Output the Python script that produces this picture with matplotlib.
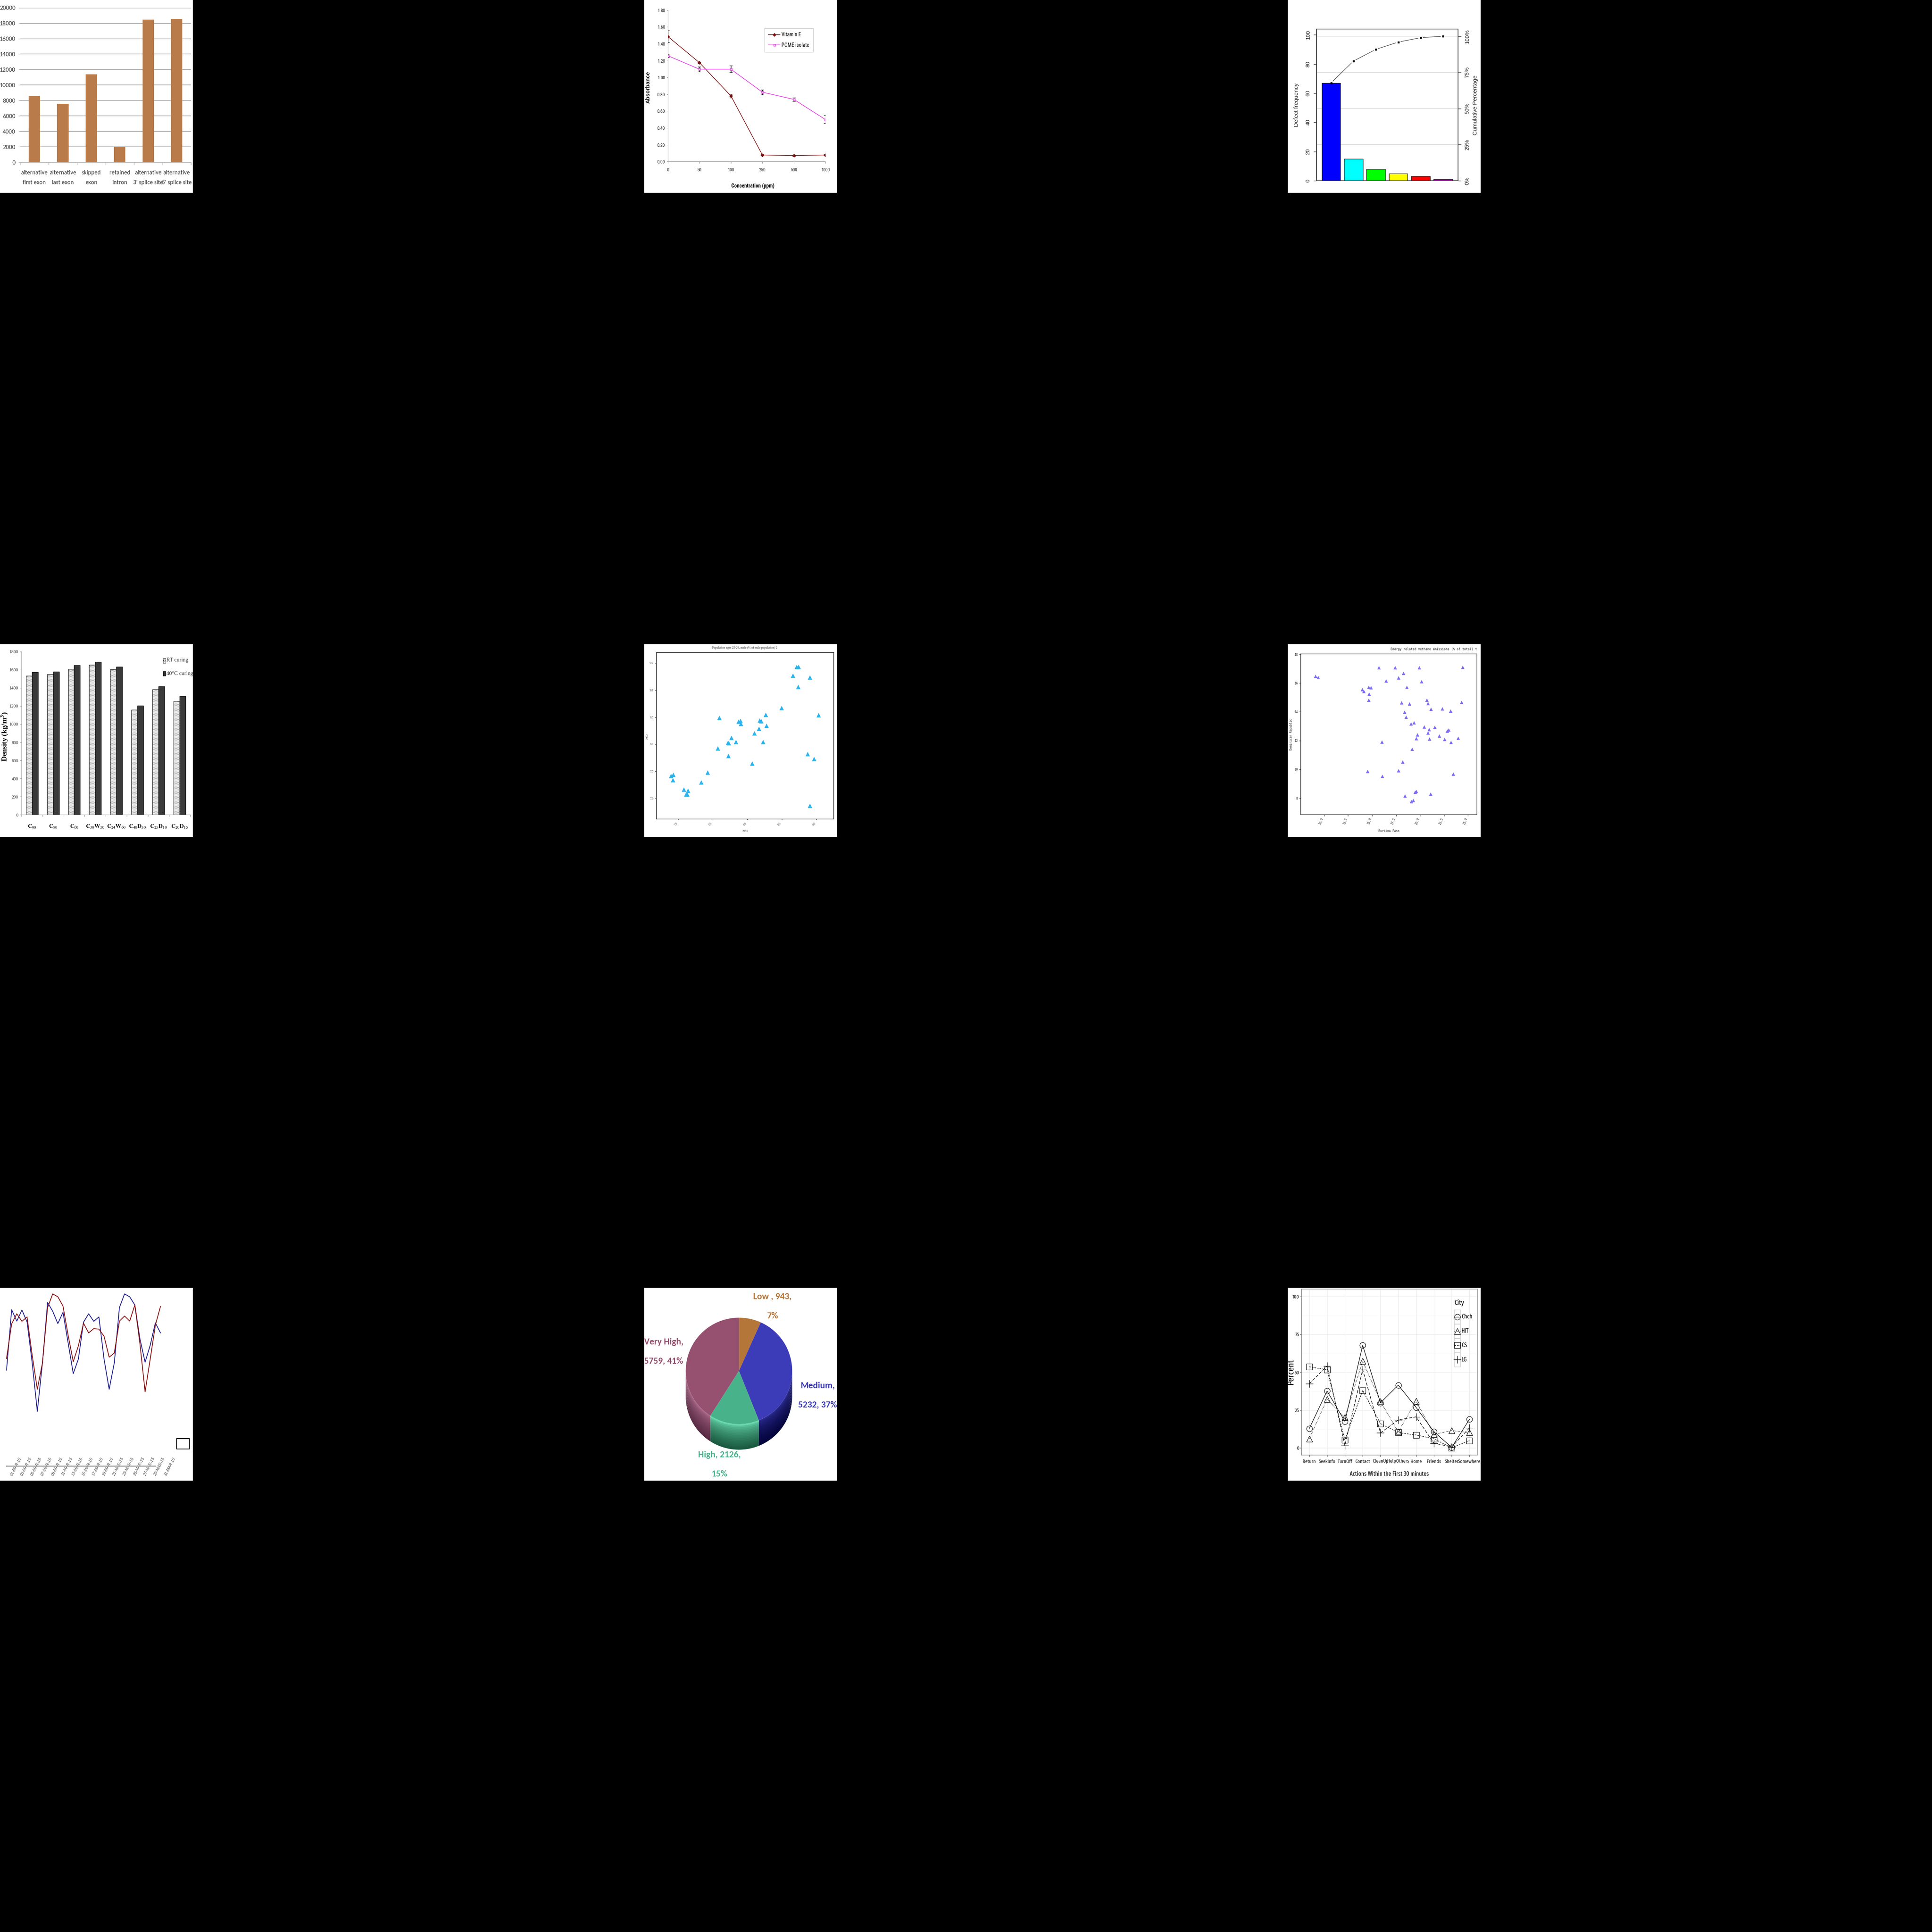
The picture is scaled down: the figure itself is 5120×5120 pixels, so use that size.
import numpy as np
import pandas as pd
import matplotlib
matplotlib.use('Agg')
import matplotlib.pyplot as plt
import matplotlib.dates as mdates
from matplotlib.patches import Rectangle, Polygon
from matplotlib.lines import Line2D
from matplotlib import font_manager as fm
from matplotlib.ticker import NullFormatter, FormatStrFormatter
from matplotlib.colors import to_rgb

# ---------------------------------------------------------------- data
p1_categories = ["alternative\nfirst exon", "alternative\nlast exon", "skipped\nexon",
                 "retained\nintron", "alternative\n3' splice site", "alternative\n5' splice site"]
p1_counts = [8600, 7560, 11400, 2000, 18450, 18570]

p2_conc = ['0', '50', '100', '250', '500', '1000']
p2_vitE = [1.486, 1.176, 0.781, 0.079, 0.072, 0.079]
p2_vitE_err = [0.07, 0.01, 0.022, 0.006, 0.006, 0.006]
p2_pome = [1.258, 1.098, 1.098, 0.825, 0.739, 0.500]
p2_pome_err = [0.02, 0.03, 0.04, 0.03, 0.02, 0.046]

p3_freq = [67, 15, 8, 5, 3, 1]
p3_colors = ['#0000FF', '#00FFFF', '#00FF00', '#FFFF00', '#FF0000', '#FF00FF']

p4_mixes = [r'$\mathbf{C}_{90}$', r'$\mathbf{C}_{80}$', r'$\mathbf{C}_{60}$', r'$\mathbf{C}_{30}\mathbf{W}_{50}$',
            r'$\mathbf{C}_{24}\mathbf{W}_{60}$', r'$\mathbf{C}_{40}\mathbf{D}_{30}$', r'$\mathbf{C}_{25}\mathbf{D}_{10}$',
            r'$\mathbf{C}_{20}\mathbf{D}_{15}$']
p4_rt = [1534, 1548, 1607, 1653, 1603, 1158, 1384, 1255]
p4_40c = [1574, 1577, 1650, 1686, 1634, 1202, 1414, 1308]
p4_series = ['RT curing', '40°C curing']

p5_x1981 = [6.896, 6.925, 6.922, 7.078, 7.113, 7.131, 7.138, 7.333, 7.422, 7.571,
            7.593, 7.720, 7.731, 7.722, 7.769, 7.836, 7.873, 7.900, 7.904, 8.067,
            8.100, 8.165, 8.178, 8.200, 8.229, 8.264, 8.278, 8.493, 8.660, 8.711,
            8.742, 8.736, 8.905, 8.873, 8.965, 8.902, 9.031]
p5_y1992 = [7.419, 7.437, 7.344, 7.167, 7.077, 7.077, 7.147, 7.298, 7.477, 7.928,
            8.491, 8.033, 8.023, 7.786, 8.119, 8.047, 8.423, 8.433, 8.377, 7.647,
            8.205, 8.288, 8.444, 8.428, 8.044, 8.549, 8.342, 8.674, 9.272, 9.435,
            9.435, 9.060, 9.240, 7.819, 7.730, 6.870, 8.537]

p6_burkina = [9.096, 9.384, 15.714, 17.405, 19.934, 24.417, 18.257, 17.746, 16.461, 20.170,
              13.997, 14.155, 14.653, 14.902, 14.692, 14.640, 18.637, 18.073, 18.886, 20.695,
              20.800, 21.153, 22.320, 23.185, 24.299, 18.388, 18.558, 19.043, 19.384, 20.432,
              21.546, 20.930, 20.839, 22.844, 23.001, 19.738, 19.607, 20.996, 21.992, 22.556,
              23.198, 23.958, 16.029, 19.187, 18.191, 17.759, 14.522, 16.081, 23.434, 19.502,
              19.607, 18.440, 21.114, 19.109, 19.279]
p6_dominican = [16.469, 16.399, 17.081, 17.081, 17.081, 17.099, 16.679, 16.381, 16.171, 16.119,
                15.559, 15.437, 15.725, 15.699, 15.235, 14.815, 15.708, 14.649, 14.553, 14.824,
                14.579, 14.194, 14.212, 14.054, 14.675, 13.993, 13.643, 13.179, 13.258, 12.969,
                12.926, 12.768, 12.541, 12.663, 12.759, 12.401, 12.138, 12.129, 12.331, 12.086,
                11.893, 12.182, 11.919, 11.412, 10.528, 9.925, 9.855, 9.531, 9.680, 8.411,
                8.481, 8.157, 8.289, 7.764, 7.851]

p7_start = '2015-02-26'
p7_blue = [43.1, 91.1, 82.1, 90.9, 81.4, 48.9, 10.4, 48.9, 96.9, 89.9,
           80.1, 89.1, 64.9, 40.4, 51.9, 81.2, 87.9, 81.9, 85.4, 51.9,
           27.9, 48.9, 92.9, 103.7, 101.4, 94.9, 67.9, 49.4, 62.9, 80.7, 72.7]
p7_red = [52.4, 79.9, 87.9, 81.9, 85.4, 54.9, 27.9, 48.9, 92.9, 103.7,
          101.4, 94.1, 70.9, 49.9, 62.4, 80.4, 72.7, 76.1, 75.7, 70.1,
          53.4, 56.7, 82.1, 86.1, 82.1, 94.9, 63.9, 25.9, 51.9, 78.9, 93.7]

p8_levels = ['Low ', 'Medium', 'High', 'Very High']
p8_counts = [943, 5232, 2126, 5759]

p9_actions = ['Return', 'SeekInfo', 'TurnOff', 'Contact', 'CleanUp', 'HelpOthers',
              'Home', 'Friends', 'Shelter', 'Somewhere']
p9_cities = ['Chch', 'HIT', 'CS', 'LG']
p9_chch = [12.8, 37.6, 17.5, 67.8, 29.8, 41.5, 26.8, 10.7, 0.3, 18.9]
p9_hit = [6.0, 32.2, 20.1, 57.3, 30.7, 10.6, 31.0, 8.9, 11.4, 10.1]
p9_cs = [53.6, 51.7, 5.2, 38.0, 16.0, 10.1, 8.5, 6.0, 0.0, 4.7]
p9_lg = [42.3, 54.2, 1.6, 51.7, 9.9, 18.5, 20.5, 3.1, 0.6, 13.2]

# ---------------------------------------------------------------- fonts
_names = {f.name for f in fm.fontManager.ttflist}
def pick(*cands):
    for c in cands:
        if c in _names:
            return c
    return 'DejaVu Sans'
CALIBRI = pick('Carlito', 'Liberation Sans')
NARROW = pick('Roboto Condensed', 'Archivo Narrow', 'Liberation Sans')
XCOND = pick('Fira Sans Extra Condensed', 'Roboto Condensed', 'Liberation Sans')
SANS = pick('Liberation Sans', 'DejaVu Sans')
SERIF = pick('Liberation Serif', 'DejaVu Serif')
MONO = pick('DejaVu Sans Mono', 'Liberation Mono')
plt.rcParams['mathtext.fontset'] = 'stix'
plt.rcParams['hatch.linewidth'] = 0.6

# ---------------------------------------------------------------- figure helpers
W = 5120
fig = plt.figure(figsize=(W / 100, W / 100), dpi=100, facecolor='black')

def R(x0, y0, x1, y1):
    return [x0 / W, 1 - y1 / W, (x1 - x0) / W, (y1 - y0) / W]

def FX(x):
    return x / W

def FY(y):
    return 1 - y / W

def ftext(x, y, s, **kw):
    kw.setdefault('ha', 'center')
    kw.setdefault('va', 'center')
    return fig.text(x / W, 1 - y / W, s, **kw)

ORIG = [(round(c * W / 3), round(r * W / 3)) for r in range(3) for c in range(3)]
PS = 511

def background(i):
    ox, oy = ORIG[i]
    b = fig.add_axes(R(ox, oy, ox + PS, oy + PS))
    b.set_zorder(-5)
    b.set_facecolor('white')
    b.set_xticks([])
    b.set_yticks([])
    for s in b.spines.values():
        s.set_visible(False)
    return b

def style_labels(labels, **kw):
    for lab in labels:
        for k, v in kw.items():
            getattr(lab, 'set_' + k)(v)

# ================================================================ panel 1
background(0)
ax = fig.add_axes(R(53.3, 20.7, 506, 430))
x1 = np.arange(len(p1_counts))
ax.bar(x1, p1_counts, width=0.4, color='#BA7B4A', zorder=3)
ax.set_xlim(-0.5, len(x1) - 0.5)
ax.set_ylim(0, 20000)
ax.set_yticks(np.arange(0, 20001, 2000))
ax.yaxis.grid(True, color='#A8A8A8', lw=1.3)
ax.set_axisbelow(True)
ax.set_xticks(np.arange(-0.5, len(x1), 1.0))
ax.xaxis.set_major_formatter(NullFormatter())
ax.set_xticks(x1, minor=True)
ax.set_xticklabels(p1_categories, minor=True)
ax.tick_params(axis='x', which='major', length=5, color='#A8A8A8', width=1)
ax.tick_params(axis='x', which='minor', length=0, pad=15, labelsize=11.5, labelcolor='#3A3A3A')
ax.tick_params(axis='y', length=3, color='#A8A8A8', labelsize=12, pad=6, labelcolor='#3A3A3A')
for s in ['top', 'right', 'left']:
    ax.spines[s].set_visible(False)
ax.spines['bottom'].set_color('#A8A8A8')
ax.spines['bottom'].set_linewidth(1.3)
style_labels(ax.get_xticklabels(minor=True), fontfamily=CALIBRI, linespacing=2.15)
style_labels(ax.get_yticklabels(), fontfamily=CALIBRI)

# ================================================================ panel 2
background(1)
ax = fig.add_axes(R(1770, 26.7, 2187.3, 428.3))
x2 = np.arange(len(p2_conc))
ax.errorbar(x2, p2_vitE, yerr=p2_vitE_err, color='#7A1212', marker='D', ms=3.8, lw=1.2,
            ecolor='black', elinewidth=1.0, capsize=2.6, capthick=1.0, zorder=3)
ax.errorbar(x2, p2_pome, yerr=p2_pome_err, color='#E03CE0', marker='s', ms=3.6, mfc='#F6D0F6',
            mec='#E03CE0', lw=1.2, ecolor='black', elinewidth=1.0, capsize=2.6, capthick=1.0, zorder=3)
ax.set_xlim(0, len(x2) - 1)
ax.set_ylim(0, 1.8)
ax.set_yticks(np.arange(0, 1.81, 0.2))
ax.yaxis.set_major_formatter(FormatStrFormatter('%.2f'))
ax.set_xticks(x2, p2_conc)
for s in ['top', 'right']:
    ax.spines[s].set_visible(False)
for s in ['left', 'bottom']:
    ax.spines[s].set_color('#8A8A8A')
ax.tick_params(axis='y', length=2.5, color='#8A8A8A', labelsize=8.5, pad=3)
ax.tick_params(axis='x', length=3.5, color='#8A8A8A', labelsize=8.5, pad=8)
style_labels(ax.get_xticklabels() + ax.get_yticklabels(), fontfamily=NARROW, color='#222222')
h2 = [Line2D([], [], color='#7A1212', marker='D', ms=3.8, lw=1.2),
      Line2D([], [], color='#E03CE0', marker='s', ms=3.6, mfc='#F6D0F6', lw=1.2)]
leg = ax.legend(h2, ['Vitamin E', 'POME isolate'], loc='upper left',
                bbox_to_anchor=(FX(2026), FY(75)), bbox_transform=fig.transFigure,
                borderaxespad=0, fancybox=False, edgecolor='#C8C8C8', framealpha=1,
                prop=dict(family=NARROW, size=10), handlelength=2.2, labelspacing=1.0,
                borderpad=0.75, handletextpad=0.3)
leg.get_frame().set_linewidth(0.8)
ftext(1718, 232, 'Absorbance', rotation=90, fontsize=10.5, fontweight='bold', fontfamily=SANS)
ftext(1995, 493, 'Concentration (ppm)', fontsize=10, fontweight='bold', fontfamily=NARROW)

# ================================================================ panel 3
background(2)
ax = fig.add_axes(R(3488.7, 76.7, 3863.7, 479))
x3 = np.arange(len(p3_freq))
tot3 = sum(p3_freq)
cum3 = np.cumsum(p3_freq)
ax.bar(x3, p3_freq, width=1 / 1.2, color=p3_colors, edgecolor='#222222', lw=1.0, zorder=3)
ax.set_xlim(-0.654, len(x3) - 1 + 0.666)
ax.set_ylim(0, 104)
for pct in (25, 50, 75, 100):
    ax.axhline(pct / 100 * tot3, color='#E0E0E0', lw=1.5, zorder=1)
gap = 7.0
pts = ax.transData.transform(np.column_stack([x3, cum3]))
inv = ax.transData.inverted()
for p0, p1 in zip(pts[:-1], pts[1:]):
    d = p1 - p0
    u = d / np.hypot(*d)
    seg = inv.transform(np.array([p0 + u * gap, p1 - u * gap]))
    ax.plot(seg[:, 0], seg[:, 1], color='#333333', lw=0.9, zorder=4)
ax.plot(x3, cum3, 's', ms=3.0, color='black', zorder=5)
ax.set_yticks(np.arange(0, 101, 20))
ax.set_xticks([])
ax.tick_params(axis='y', length=5.8, width=1, color='#333333', labelsize=10.5, pad=5,
               labelrotation=90, labelcolor='#222222')
style_labels(ax.get_yticklabels(), fontfamily=SANS, va='center')
for s in ax.spines.values():
    s.set_color('#333333')
    s.set_linewidth(1.1)
ax2 = ax.twinx()
ax2.set_ylim(0, 104 / tot3 * 100)
ax2.set_yticks([0, 25, 50, 75, 100])
ax2.set_yticklabels(['%d%%' % v for v in [0, 25, 50, 75, 100]])
ax2.tick_params(axis='y', length=5.8, width=1, color='#333333', labelsize=10.5, pad=7,
                labelrotation=90, labelcolor='#222222')
style_labels(ax2.get_yticklabels(), fontfamily=SANS, va='center')
for s in ax2.spines.values():
    s.set_color('#333333')
    s.set_linewidth(1.1)
ftext(3436.3, 278, 'Defect frequency', rotation=90, fontsize=11, fontfamily=SANS, color='#222222')
ftext(3909.7, 279, 'Cumulative Percentage', rotation=90, fontsize=11, fontfamily=SANS, color='#222222')

# ================================================================ panel 4
background(3)
ax = fig.add_axes(R(56.7, 1726.7, 504, 2159.3))
x4 = np.arange(len(p4_rt))
bw = 0.285
ax.bar(x4 - bw / 2, p4_rt, width=bw, color='#EBEBEB', edgecolor='#8C8C8C', hatch='.....', lw=0, zorder=2)
ax.bar(x4 - bw / 2, p4_rt, width=bw, fill=False, edgecolor='#2A2A2A', lw=1.0, zorder=3)
ax.bar(x4 + bw / 2, p4_40c, width=bw, color='#3A3A3A', edgecolor='#151515', lw=1.0, zorder=3)
ax.set_xlim(-0.5, len(x4) - 0.5)
ax.set_ylim(0, 1800)
ax.set_yticks(np.arange(0, 1801, 200))
ax.set_xticks(np.arange(-0.5, len(x4), 1.0))
ax.xaxis.set_major_formatter(NullFormatter())
ax.set_xticks(x4, minor=True)
ax.set_xticklabels(p4_mixes, minor=True)
ax.tick_params(axis='x', which='major', length=3.5, color='#8C8C8C')
ax.tick_params(axis='x', which='minor', length=0, pad=17, labelsize=11)
ax.tick_params(axis='y', length=3, color='#8C8C8C', labelsize=8.5, pad=3, labelcolor='#333333')
style_labels(ax.get_yticklabels(), fontfamily=SERIF)
for s in ['top', 'right']:
    ax.spines[s].set_visible(False)
for s in ['left', 'bottom']:
    ax.spines[s].set_color('#8C8C8C')
fig.add_artist(Rectangle((FX(431.7), FY(1757)), 7.6 / W, 12 / W, transform=fig.transFigure,
                         fc='#EBEBEB', ec='#2A2A2A', lw=0.8, hatch='....'))
fig.add_artist(Rectangle((FX(431.7), FY(1791)), 7.6 / W, 12 / W, transform=fig.transFigure,
                         fc='#3A3A3A', ec='#151515', lw=0.8))
ftext(441, 1750, p4_series[0], ha='left', fontsize=10.5, fontfamily=SERIF, color='#333333')
ftext(441, 1785, p4_series[1], ha='left', fontsize=10.5, fontfamily=SERIF, color='#333333')
ftext(12, 1952, 'Density (kg/m$^\\mathbf{3}$)', rotation=90, fontsize=14, fontweight='bold',
      fontfamily=SERIF)

# ================================================================ panel 5
background(4)
ax = fig.add_axes(R(1739.3, 1729.3, 2209, 2170.3))
ax.scatter(p5_x1981, p5_y1992, marker='^', s=8.5 ** 2, color='#2CB4EE', lw=0, zorder=3)
ax.set_xlim(6.682, 9.249)
ax.set_ylim(6.621, 9.695)
ax.set_xticks(np.arange(7.0, 9.01, 0.5))
ax.set_yticks(np.arange(7.0, 9.51, 0.5))
ax.xaxis.set_major_formatter(FormatStrFormatter('%.1f'))
ax.yaxis.set_major_formatter(FormatStrFormatter('%.1f'))
ax.tick_params(length=2.5, width=0.8, labelsize=5.5, pad=3, labelcolor='#333333')
style_labels(ax.get_xticklabels(), rotation=45, ha='right', fontfamily=SERIF)
style_labels(ax.get_yticklabels(), fontfamily=SERIF)
for s in ax.spines.values():
    s.set_linewidth(1.0)
    s.set_color('#111111')
ftext(1974, 1717, 'Population ages 25-29, male (% of male population) 2', fontsize=5.8,
      fontfamily=SERIF, color='#333333')
ftext(1974, 2203, '1981', fontsize=5.8, fontfamily=SERIF, color='#333333')
ftext(1715, 1952, '1992', rotation=90, fontsize=5.8, fontfamily=SERIF, color='#333333')

# ================================================================ panel 6
background(5)
ax = fig.add_axes(R(3446.7, 1733.3, 3914, 2159))
ax.scatter(p6_burkina, p6_dominican, marker='^', s=6.6 ** 2, color='#7D6EF2', lw=0, zorder=3)
ax.set_xlim(7.56, 25.93)
ax.set_ylim(6.845, 18.02)
ax.set_xticks(np.arange(10.0, 25.01, 2.5))
ax.set_yticks(np.arange(8, 18.1, 2))
ax.xaxis.set_major_formatter(FormatStrFormatter('%.1f'))
ax.yaxis.set_major_formatter(FormatStrFormatter('%d'))
ax.tick_params(length=3, width=1.0, labelsize=5.5, pad=2.5, labelcolor='#222222', color='#333333')
style_labels(ax.get_xticklabels(), rotation=70, ha='right', fontfamily=MONO)
style_labels(ax.get_yticklabels(), fontfamily=MONO)
for s in ax.spines.values():
    s.set_linewidth(1.2)
    s.set_color('#444444')
ftext(3913.7, 1720.7, 'Energy related methane emissions (% of total) t', ha='right', fontsize=5.9,
      fontfamily=MONO, color='#222222')
ftext(3680.3, 2202.7, 'Burkina Faso', fontsize=5.6, fontfamily=MONO, color='#222222')
ftext(3422, 1946.7, 'Dominican Republic', rotation=90, fontsize=5.6, fontfamily=MONO, color='#222222')

# ================================================================ panel 7
background(6)
d7 = mdates.date2num(pd.date_range(p7_start, periods=len(p7_blue), freq='D'))
tick_dates = pd.date_range('2015-03-01', '2015-03-31', freq='2D')
t7 = mdates.date2num(tick_dates)
lab7 = [d.strftime('%d-%b-%y').upper() for d in tick_dates]
day_px = 13.6
x_end = t7[-1] + 1
ax = fig.add_axes(R(17.3, 3408, 17.3 + (x_end - d7[0]) * day_px, 3884.7))
ax.patch.set_visible(False)
ax.plot(d7, p7_blue, color='#1C1C8E', lw=1.5, clip_on=False, zorder=3)
ax.plot(d7, p7_red, color='#8A0C0C', lw=1.5, clip_on=False, zorder=4)
ax.set_xlim(d7[0], x_end)
ax.set_ylim(-33, 110)
ax.set_yticks([])
for s in ['top', 'right', 'left']:
    ax.spines[s].set_visible(False)
ax.spines['bottom'].set_color('#A8A8A8')
ax.spines['bottom'].set_linewidth(2.2)
ax.spines['bottom'].set_bounds(d7[0], d7[-2])
ax.set_xticks(t7)
ax.set_xticklabels(lab7)
ax.tick_params(axis='x', length=0, pad=-17, labelsize=7.5, labelcolor='#4A4A4A')
style_labels(ax.get_xticklabels(), rotation=63, ha='right', fontstyle='italic', fontfamily=SANS)
fig.add_artist(Rectangle((FX(468), FY(3840)), 34 / W, 28 / W, transform=fig.transFigure,
                         fill=False, ec='black', lw=1.2))
fig.add_artist(Line2D([FX(469), FX(502)], [FY(3813.2)] * 2, transform=fig.transFigure,
                      color='black', lw=1.2))

# ================================================================ panel 8
ox8, oy8 = ORIG[7]
ax = background(7)
cx, cy, rad, depth = 1958.3, -3633.0, 141.0, 67.0
fr8 = np.array(p8_counts) / sum(p8_counts)
start8 = 90 - 360 * np.concatenate([[0], np.cumsum(fr8)[:-1]])
end8 = start8 - 360 * fr8
top_cols = ['#B5763A', '#3C3CB8', '#48B38B', '#965070']
side_top = ['#8A5A2A', '#2A2A8E', '#66D8AC', '#A86886']
side_bot = ['#5A3A1A', '#03033C', '#1A5A40', '#5A2A44']

def blend(c1, c2, f):
    a, b = np.array(to_rgb(c1)), np.array(to_rgb(c2))
    return tuple(a + (b - a) * f)

for k in range(len(p8_counts)):
    a0, a1 = max(end8[k], -180.0), min(start8[k], 0.0)
    if a1 <= a0:
        continue
    t = np.radians(np.linspace(a0, a1, 80))
    nb = 16
    for j in range(nb):
        d0 = depth * j / nb
        d1 = depth * (j + 1) / nb + 0.8
        top = np.column_stack([cx + rad * np.cos(t), cy + rad * np.sin(t) - d0])
        bot = np.column_stack([cx + rad * np.cos(t[::-1]), cy + rad * np.sin(t[::-1]) - d1])
        col = blend(side_top[k], side_bot[k], (j / (nb - 1)) ** 0.6)
        ax.add_patch(Polygon(np.vstack([top, bot]), closed=True, fc=col, ec='none', lw=0))
ax.pie(p8_counts, colors=top_cols, startangle=90, counterclock=False, center=(cx, cy),
       radius=rad, wedgeprops=dict(lw=0), frame=True)
ax.set_xlim(ox8, ox8 + PS)
ax.set_ylim(-(oy8 + PS), -oy8)
ax.set_aspect('auto')
ax.set_xticks([])
ax.set_yticks([])
p8_fmt = ['{n}, {c},\n{p}%', '{n},\n{c}, {p}%', '{n}, {c},\n{p}%', '{n},\n{c}, {p}%']
p8_pos = [(2047, 3462), (2167, 3698), (1907, 3881), (1759, 3582)]
for k in range(len(p8_counts)):
    s = p8_fmt[k].format(n=p8_levels[k], c=p8_counts[k], p=int(round(fr8[k] * 100)))
    ax.text(p8_pos[k][0], -p8_pos[k][1], s, color=top_cols[k], fontsize=17.5, fontweight='bold',
            fontfamily=CALIBRI, ha='center', va='center', linespacing=2.75, clip_on=True)

# ================================================================ panel 9
background(8)
ax = fig.add_axes(R(3448.7, 3416.3, 3915.3, 3856.3))
x9 = np.arange(len(p9_actions))
ax.set_xlim(-0.445, len(x9) - 1 + 0.445)
ax.set_ylim(-4.83, 105)
ax.set_yticks([0, 25, 50, 75, 100])
ax.set_yticks([12.5, 37.5, 62.5, 87.5], minor=True)
ax.set_xticks(x9)
ax.set_xticklabels(p9_actions)
ax.grid(which='major', color='#EBEBEB', lw=1.0)
ax.grid(which='minor', axis='y', color='#F5F5F5', lw=0.6)
ax.set_axisbelow(True)
for s in ax.spines.values():
    s.set_color('#7F7F7F')
    s.set_linewidth(1.1)
styles9 = [('o', '-', 11), ('^', (0, (1, 1.6)), 11), ('s', (0, (3, 2)), 11), ('+', (0, (6, 3)), 14)]
for vals, (m, ls, ms) in zip([p9_chch, p9_hit, p9_cs, p9_lg], styles9):
    ax.plot(x9, vals, color='black', ls=ls, lw=1.0, zorder=3)
    ax.plot(x9, vals, ls='none', marker=m, ms=ms, mfc='none', mec='black', mew=0.9, zorder=4)
ax.tick_params(which='minor', length=0)
ax.tick_params(which='major', length=2.6, color='#333333', labelsize=9.8, labelcolor='#222222')
ax.tick_params(axis='x', pad=5)
ax.tick_params(axis='y', pad=1.5)
style_labels(ax.get_xticklabels() + ax.get_yticklabels(), fontfamily=XCOND)
ftext(3420, 3636, 'Percent', rotation=90, fontsize=17, fontfamily=XCOND)
ftext(3682, 3906, 'Actions Within the First 30 minutes', fontsize=11.5, fontfamily=XCOND)
ftext(3854, 3453, 'City', ha='left', fontsize=13, fontfamily=XCOND)
for k, (name, (m, ls, ms)) in enumerate(zip(p9_cities, styles9)):
    yk = 3489.7 + 37.8 * k
    fig.add_artist(Rectangle((FX(3854), FY(yk + 18.5)), 16 / W, 37 / W, transform=fig.transFigure,
                             fc='white', ec='#D0D0D0', lw=0.8))
    fig.add_artist(Line2D([FX(3854), FX(3870)], [FY(yk)] * 2, transform=fig.transFigure,
                          color='black', ls=ls, lw=1.0))
    fig.add_artist(Line2D([FX(3862)], [FY(yk)], transform=fig.transFigure, ls='none',
                          marker=m, ms=ms, mfc='none', mec='black', mew=0.9))
    ftext(3873, yk, name, ha='left', fontsize=11.5, fontfamily=XCOND)

fig.savefig('out.png', dpi=100, facecolor='black')
